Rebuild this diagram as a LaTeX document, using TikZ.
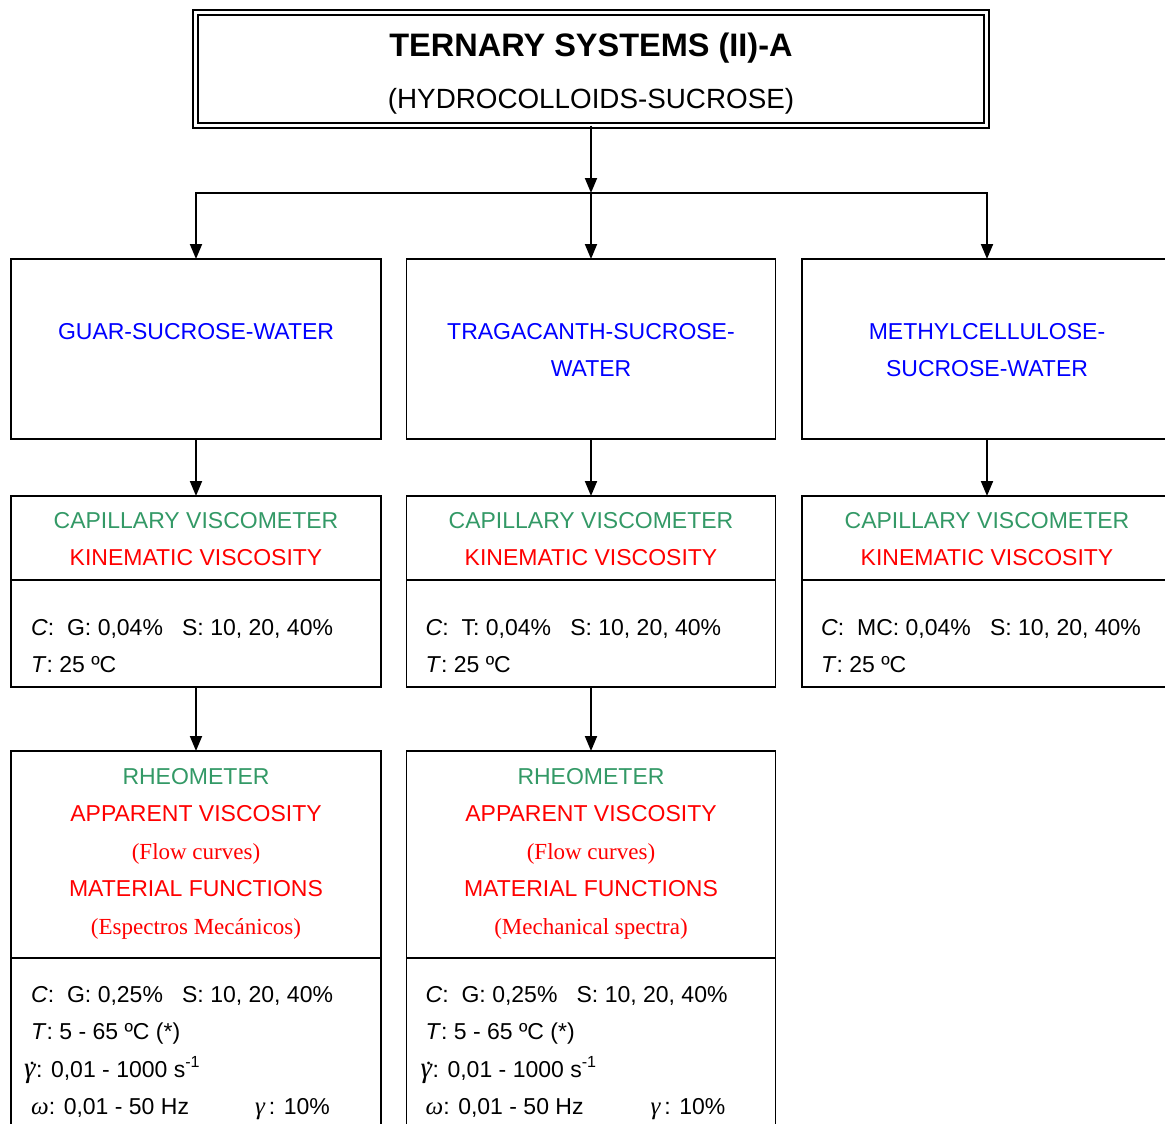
\documentclass[tikz,border=0pt]{standalone}
\usepackage{fontspec}
\setmainfont{Liberation Sans}
\newfontfamily\timesfont{Liberation Serif}
\usetikzlibrary{positioning,arrows.meta}
\definecolor{sysblue}{RGB}{0,0,255}
\definecolor{instgreen}{RGB}{51,153,102}
\definecolor{propred}{RGB}{255,0,0}
\newcommand{\greek}[1]{{\timesfont\itshape\fontsize{25}{25}\selectfont #1}}
\newcommand{\shearrate}{{\timesfont\itshape\fontsize{29}{29}\selectfont γ\kern-0.2em\raisebox{0.42em}{\fontsize{23}{23}\selectfont.}\kern0.02em}}

\begin{document}
\begin{tikzpicture}[x=1pt,y=1pt,
boxnode/.style={rectangle, draw=black, line width=1.9pt, minimum width=370pt, inner sep=0pt, outer sep=0pt},
titlenode/.style={boxnode, line width=1.7pt, double, double distance=2.8pt, minimum width=791pt, minimum height=113pt},
textnode/.style={anchor=base, inner sep=0pt, align=center, font=\fontsize{23}{37.5}\selectfont},
datanode/.style={anchor=base west, inner sep=0pt, align=left, font=\fontsize{23}{37.5}\selectfont},
arrow/.style={line width=1.9pt, -{Triangle[length=15pt,width=12pt]}},
]
\useasboundingbox (0,0) rectangle (1165,-1124);

%Title
\node[titlenode]      (top)     at (591,-69) {};
\node[textnode, font=\fontsize{32.5}{40}\selectfont\bfseries] (topT) at ([yshift=-44pt]top.north) {TERNARY SYSTEMS (II)-A};
\node[textnode, font=\fontsize{27.8}{34}\selectfont] (topS) at ([yshift=-95.5pt]top.north) {(HYDROCOLLOIDS-SUCROSE)};
\coordinate (split) at (591,-193);

%Systems (multi-line text sits on the baseline of its last line)
\node[boxnode, minimum height=180pt]      (guar)     at (196,-349) {};
\node[boxnode, minimum height=180pt, minimum width=369pt] (traga) at (591,-349) {};
\node[boxnode, minimum height=180pt]      (methyl)   at (987,-349) {};
\node[textnode, text=sysblue] (guarT)   at ([yshift=-80pt]guar.north)   {GUAR-SUCROSE-WATER};
\node[textnode, text=sysblue] (tragaT)  at ([yshift=-117.5pt]traga.north)  {TRAGACANTH-SUCROSE-\\WATER};
\node[textnode, text=sysblue] (methylT) at ([yshift=-117.5pt]methyl.north) {METHYLCELLULOSE-\\SUCROSE-WATER};

%Capillary viscometer
\node[boxnode, minimum height=191pt, below=57pt of guar]   (capG) {};
\node[boxnode, minimum height=191pt, minimum width=369pt, below=57pt of traga] (capT) {};
\node[boxnode, minimum height=191pt, below=57pt of methyl] (capM) {};
\foreach \b in {capG,capT,capM}{
  \draw[line width=1.9pt] ([yshift=-84pt]\b.north west) -- ([yshift=-84pt]\b.north east);
  \node[textnode] (\b T) at ([yshift=-69.5pt]\b.north) {\textcolor{instgreen}{CAPILLARY VISCOMETER}\\\textcolor{propred}{KINEMATIC VISCOSITY}};
}
\node[datanode] (capGD) at ([xshift=20pt,yshift=-176.5pt]capG.north west) {\textit{C}:~~G: 0,04\%~~~S: 10, 20, 40\%\\\textit{T}: 25 ºC};
\node[datanode] (capTD) at ([xshift=19pt,yshift=-176.5pt]capT.north west) {\textit{C}:~~T: 0,04\%~~~S: 10, 20, 40\%\\\textit{T}: 25 ºC};
\node[datanode] (capMD) at ([xshift=19pt,yshift=-176.5pt]capM.north west) {\textit{C}:~~MC: 0,04\%~~~S: 10, 20, 40\%\\\textit{T}: 25 ºC};

%Rheometer
\node[boxnode, minimum height=460pt, below=64pt of capG] (rheoG) {};
\node[boxnode, minimum height=460pt, minimum width=369pt, below=64pt of capT] (rheoT) {};
\foreach \b in {rheoG,rheoT}{
  \draw[line width=1.9pt] ([yshift=-207pt]\b.north west) -- ([yshift=-207pt]\b.north east);
}
\node[textnode] (rheoGT) at ([yshift=-183pt]rheoG.north) {\textcolor{instgreen}{RHEOMETER}\\\textcolor{propred}{APPARENT VISCOSITY}\\\textcolor{propred}{\timesfont(Flow curves)}\\\textcolor{propred}{MATERIAL FUNCTIONS}\\\textcolor{propred}{\timesfont(Espectros Mecánicos)}};
\node[textnode] (rheoTT) at ([yshift=-183pt]rheoT.north) {\textcolor{instgreen}{RHEOMETER}\\\textcolor{propred}{APPARENT VISCOSITY}\\\textcolor{propred}{\timesfont(Flow curves)}\\\textcolor{propred}{MATERIAL FUNCTIONS}\\\textcolor{propred}{\timesfont(Mechanical spectra)}};
\node[datanode] (rheoGD) at ([xshift=20pt,yshift=-363.5pt]rheoG.north west) {\textit{C}:~~G: 0,25\%~~~S: 10, 20, 40\%\\\textit{T}: 5 - 65 ºC (*)\\\hspace*{-7pt}\shearrate: 0,01 - 1000 s\textsuperscript{-1}\\\makebox[224pt][l]{\greek{ω}: 0,01 - 50 Hz}\greek{γ}\,: 10\%};
\node[datanode] (rheoTD) at ([xshift=19pt,yshift=-363.5pt]rheoT.north west) {\textit{C}:~~G: 0,25\%~~~S: 10, 20, 40\%\\\textit{T}: 5 - 65 ºC (*)\\\hspace*{-5pt}\shearrate: 0,01 - 1000 s\textsuperscript{-1}\\\makebox[225pt][l]{\greek{ω}: 0,01 - 50 Hz}\greek{γ}\,: 10\%};

%Lines
\draw[arrow] (top.south) -- (split);
\draw[arrow] (split) -| (guar.north);
\draw[arrow] (split) -- (traga.north);
\draw[arrow] (split) -| (methyl.north);
\draw[arrow] (guar) -- (capG);
\draw[arrow] (traga) -- (capT);
\draw[arrow] (methyl) -- (capM);
\draw[arrow] (capG) -- (rheoG);
\draw[arrow] (capT) -- (rheoT);
\end{tikzpicture}
\end{document}
